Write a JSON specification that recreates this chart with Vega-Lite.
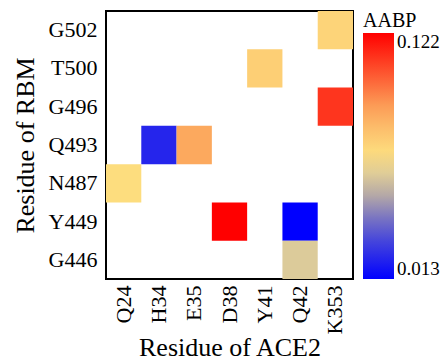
{
  "$schema": "https://vega.github.io/schema/vega-lite/v6.json",
  "width": 247,
  "height": 268,
  "autosize": "none",
  "padding": {"left": 106, "top": 11, "right": 91, "bottom": 83},
  "background": "white",
  "config": {
    "font": "Liberation Serif",
    "view": {"stroke": "black", "strokeWidth": 2},
    "axis": {"labelFont": "Liberation Serif", "titleFont": "Liberation Serif"},
    "legend": {"labelFont": "Liberation Serif", "titleFont": "Liberation Serif"}
  },
  "data": {
    "values": [
      {"ace2": "K353", "rbm": "G502", "aabp": 0.072},
      {"ace2": "Y41", "rbm": "T500", "aabp": 0.074},
      {"ace2": "K353", "rbm": "G496", "aabp": 0.111},
      {"ace2": "H34", "rbm": "Q493", "aabp": 0.022},
      {"ace2": "E35", "rbm": "Q493", "aabp": 0.087},
      {"ace2": "Q24", "rbm": "N487", "aabp": 0.069},
      {"ace2": "D38", "rbm": "Y449", "aabp": 0.122},
      {"ace2": "Q42", "rbm": "Y449", "aabp": 0.013},
      {"ace2": "Q42", "rbm": "G446", "aabp": 0.059}
    ]
  },
  "mark": {"type": "rect"},
  "encoding": {
    "x": {
      "field": "ace2",
      "type": "nominal",
      "scale": {"domain": ["Q24", "H34", "E35", "D38", "Y41", "Q42", "K353"], "paddingInner": 0, "paddingOuter": 0},
      "axis": {
        "title": "Residue of ACE2",
        "titleFontSize": 26,
        "titleFontWeight": "normal",
        "titleColor": "black",
        "labelFontSize": 22,
        "labelColor": "black",
        "labelAngle": -90,
        "labelPadding": 6,
        "ticks": false,
        "domain": false,
        "titlePadding": 1
      }
    },
    "y": {
      "field": "rbm",
      "type": "nominal",
      "scale": {"domain": ["G502", "T500", "G496", "Q493", "N487", "Y449", "G446"], "paddingInner": 0, "paddingOuter": 0},
      "axis": {
        "title": "Residue of RBM",
        "titleFontSize": 26,
        "titleFontWeight": "normal",
        "titleColor": "black",
        "labelFontSize": 22,
        "labelColor": "black",
        "labelPadding": 9,
        "ticks": false,
        "domain": false,
        "titlePadding": 10
      }
    },
    "color": {
      "field": "aabp",
      "type": "quantitative",
      "scale": {
        "domain": [0.013, 0.035, 0.049, 0.059, 0.068, 0.087, 0.122],
        "range": ["#0000ff", "#5a5ad0", "#b0a4a8", "#dccb9a", "#fde080", "#fca95e", "#ff0000"],
        "interpolate": "rgb"
      },
      "legend": {
        "title": "AABP",
        "titleFontSize": 20,
        "titleFontWeight": "normal",
        "titleColor": "black",
        "titlePadding": 2,
        "labelFontSize": 19,
        "labelColor": "black",
        "values": [0.013, 0.122],
        "format": ".3f",
        "gradientLength": 246,
        "gradientThickness": 31,
        "gradientStrokeWidth": 0,
        "offset": 10,
        "labelOffset": 3,
        "padding": 0
      }
    }
  }
}
